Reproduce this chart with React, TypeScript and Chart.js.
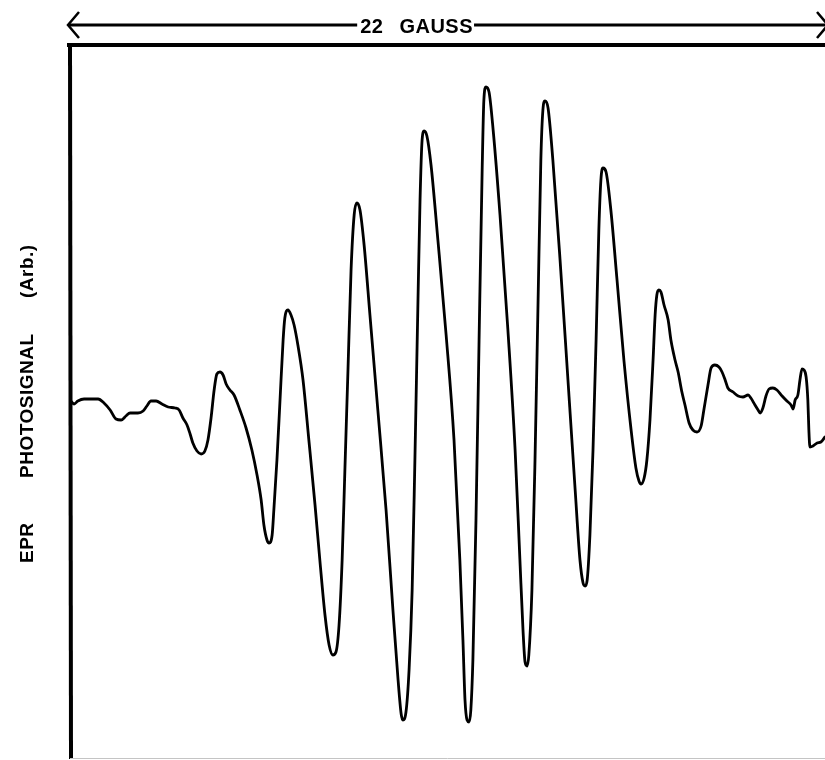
import React, { useEffect, useRef } from "react";
import { Chart, registerables } from "chart.js";

Chart.register(...registerables);

// Magnetic field offset across the sweep (G) and the recorded photosignal (arb. units)
const fieldG = [
  0, 0.12, 0.23, 0.41, 0.64, 0.82, 0.99, 1.17, 1.34, 1.49, 1.63, 1.75, 1.98, 2.13, 2.24, 2.36,
  2.51, 2.68, 2.86, 3.06, 3.18, 3.29, 3.41, 3.5, 3.58, 3.7, 3.82, 3.93, 4.02, 4.11, 4.2, 4.28,
  4.37, 4.46, 4.55, 4.66, 4.78, 4.95, 5.13, 5.3, 5.45, 5.57, 5.65, 5.74, 5.8, 5.89, 5.94, 6.03,
  6.12, 6.21, 6.26, 6.35, 6.44, 6.53, 6.64, 6.79, 6.96, 7.14, 7.28, 7.43, 7.55, 7.66, 7.75, 7.84,
  7.93, 8.01, 8.1, 8.19, 8.28, 8.36, 8.45, 8.57, 8.74, 8.97, 9.21, 9.41, 9.56, 9.65, 9.7, 9.79,
  9.88, 9.97, 10.05, 10.14, 10.2, 10.26, 10.32, 10.4, 10.52, 10.72, 10.96, 11.19, 11.36, 11.45,
  11.51, 11.57, 11.63, 11.68, 11.74, 11.83, 11.92, 12.01, 12.06, 12.12, 12.21, 12.33, 12.53,
  12.76, 12.97, 13.11, 13.2, 13.26, 13.32, 13.37, 13.46, 13.55, 13.64, 13.72, 13.78, 13.84,
  13.93, 14.07, 14.28, 14.51, 14.72, 14.86, 14.95, 15.01, 15.07, 15.15, 15.24, 15.33, 15.41,
  15.47, 15.53, 15.62, 15.76, 15.94, 16.14, 16.35, 16.49, 16.58, 16.64, 16.73, 16.81, 16.9,
  16.99, 17.05, 17.1, 17.16, 17.22, 17.31, 17.43, 17.51, 17.63, 17.72, 17.83, 17.92, 18.04,
  18.15, 18.27, 18.39, 18.47, 18.59, 18.68, 18.79, 18.91, 19.0, 19.09, 19.17, 19.32, 19.47,
  19.61, 19.76, 19.84, 19.96, 20.05, 20.11, 20.19, 20.28, 20.37, 20.48, 20.6, 20.75, 20.89,
  21.01, 21.07, 21.13, 21.21, 21.27, 21.33, 21.39, 21.45, 21.5, 21.53, 21.56, 21.65, 21.77,
  21.88, 22.0,
];

const photosignal = [
  0.2, -0.2, 0.1, 0.3, 0.3, 0.3, -0.1, -0.8, -1.7, -1.8, -1.4, -1.1, -1.1, -0.9, -0.4, 0.1,
  0.1, -0.2, -0.5, -0.6, -0.8, -1.6, -2.3, -3.2, -4.1, -4.9, -5.2, -4.9, -3.8, -1.6, 1.2, 2.8,
  3.0, 2.7, 1.8, 1.2, 0.7, -0.8, -2.6, -4.8, -7.3, -9.8, -12.3, -13.8, -14.1, -13.3, -10.8, -5.8,
  0.2, 6.2, 8.4, 9.2, 8.7, 7.7, 5.7, 2.2, -3.8, -10.3, -15.8, -21.3, -24.3, -25.3, -25.0, -22.3,
  -15.8, -6.8, 3.2, 13.2, 18.7, 19.9, 19.2, 15.7, 8.7, -0.8, -10.8, -20.8, -27.8, -31.2, -31.8, -31.0,
  -26.8, -18.8, -5.8, 10.2, 20.2, 26.2, 27.1, 26.6, 23.7, 16.2, 6.7, -3.8, -15.8, -23.8,
  -29.8, -31.8, -32.0, -30.8, -25.8, -11.8, 6.2, 23.2, 30.2, 31.5, 31.0, 27.2, 18.7,
  7.2, -4.8, -15.8, -22.8, -26.0, -26.4, -25.3, -18.8, -5.8, 10.2, 24.2, 29.2, 30.1,
  29.4, 24.2, 14.2, 2.2, -8.8, -15.8, -18.1, -18.4, -17.8, -13.3, -4.8, 6.2, 17.2,
  22.2, 23.4, 23.0, 19.2, 12.2, 4.2, -2.8, -6.6, -7.9, -8.2, -7.6, -5.8, -1.8,
  4.2, 8.7, 10.7, 11.2, 11.0, 9.7, 8.2, 6.2, 4.2, 3.0, 1.0, -0.3, -2.1,
  -2.8, -3.0, -2.4, -0.8, 1.7, 3.4, 3.7, 3.5, 3.0, 2.2, 1.4, 1.0, 0.6,
  0.5, 0.7, 0.4, -0.3, -0.8, -1.1, -0.6, 0.6, 1.3, 1.4, 1.2, 0.6, 0.1,
  -0.3, -0.7, 0.2, 0.7, 2.2, 3.3, 3.2, 2.5, 0.2, -2.8, -4.5, -4.4, -4.1,
  -4.0, -3.5,
];

// Sweep width shown above the trace, and where its label sits along the field axis
const sweepValue = "22";
const sweepUnit = "GAUSS";
const sweepLabelCenterG = 10.1;

// Vertical axis caption, read bottom to top
const yCaptionParts = ["EPR", "PHOTOSIGNAL", "(Arb.)"];

const FONT = '"Liberation Sans", Arial, sans-serif';

const framePlugin = {
  id: "eprFrame",
  afterDraw(chart: any) {
    const { ctx, chartArea, scales } = chart;
    const { left, right, top, bottom } = chartArea;
    ctx.save();
    ctx.strokeStyle = "#000";
    ctx.fillStyle = "#000";
    ctx.lineCap = "butt";

    // left axis
    ctx.lineWidth = 4;
    ctx.beginPath();
    ctx.moveTo(left, top - 2);
    ctx.lineTo(left + 1, bottom);
    ctx.stroke();

    // top border
    ctx.beginPath();
    ctx.moveTo(left - 3, top);
    ctx.lineTo(right, top);
    ctx.stroke();

    // faint bottom border
    ctx.strokeStyle = "#c4c4c4";
    ctx.lineWidth = 1;
    ctx.beginPath();
    ctx.moveTo(left, bottom - 0.5);
    ctx.lineTo(right, bottom - 0.5);
    ctx.stroke();

    // sweep-width arrow with its label
    const arrowY = top - 20;
    const cx = scales.x.getPixelForValue(sweepLabelCenterG);
    ctx.font = `bold 20px ${FONT}`;
    (ctx as any).letterSpacing = "0.5px";
    const valueW = ctx.measureText(sweepValue).width;
    const unitW = ctx.measureText(sweepUnit).width;
    const gap = 16;
    const total = valueW + gap + unitW;
    const textLeft = cx - total / 2;
    const textRight = cx + total / 2;
    ctx.textBaseline = "alphabetic";
    ctx.textAlign = "left";
    ctx.fillText(sweepValue, textLeft, arrowY + 8);
    ctx.fillText(sweepUnit, textLeft + valueW + gap, arrowY + 8);

    ctx.strokeStyle = "#000";
    ctx.lineWidth = 3;
    ctx.beginPath();
    ctx.moveTo(left - 2, arrowY);
    ctx.lineTo(textLeft - 3, arrowY);
    ctx.moveTo(textRight + 1, arrowY);
    ctx.lineTo(right + 2, arrowY);
    ctx.stroke();

    ctx.lineWidth = 2.5;
    ctx.lineJoin = "miter";
    ctx.beginPath();
    ctx.moveTo(left + 9, arrowY - 13);
    ctx.lineTo(left - 2, arrowY);
    ctx.lineTo(left + 9, arrowY + 13);
    ctx.stroke();
    ctx.beginPath();
    ctx.moveTo(right - 8, arrowY - 13);
    ctx.lineTo(right + 3, arrowY);
    ctx.lineTo(right - 8, arrowY + 13);
    ctx.stroke();

    // rotated vertical caption
    ctx.font = `bold 19px ${FONT}`;
    (ctx as any).letterSpacing = "0.5px";
    const baseX = left - 37;
    const starts = [bottom - 196, bottom - 281, bottom - 461];
    yCaptionParts.forEach((part, i) => {
      ctx.save();
      ctx.translate(baseX, starts[i]);
      ctx.rotate(-Math.PI / 2);
      ctx.fillText(part, 0, 0);
      ctx.restore();
    });

    ctx.restore();
  },
};

export default function App() {
  const canvasRef = useRef<HTMLCanvasElement | null>(null);

  useEffect(() => {
    const canvas = canvasRef.current;
    if (!canvas) return;
    const points = fieldG.map((g, i) => ({ x: g, y: photosignal[i] }));
    const chart = new Chart(canvas, {
      type: "line",
      data: {
        datasets: [
          {
            data: points,
            borderColor: "#000",
            borderWidth: 2.8,
            pointRadius: 0,
            cubicInterpolationMode: "monotone",
            borderJoinStyle: "round",
            borderCapStyle: "round",
            fill: false,
          },
        ],
      },
      options: {
        responsive: false,
        devicePixelRatio: 1,
        animation: false,
        layout: { padding: { left: 70, top: 45, right: 0, bottom: 1 } },
        plugins: {
          legend: { display: false },
          tooltip: { enabled: false },
        },
        scales: {
          x: { type: "linear", min: 0, max: 22, display: false },
          y: { type: "linear", min: -35.7, max: 35.7, display: false },
        },
      },
      plugins: [framePlugin],
    });
    return () => chart.destroy();
  }, []);

  return (
    <div style={{ position: "absolute", left: 0, top: 0, width: 825, height: 760, background: "#fff" }}>
      <canvas ref={canvasRef} width={825} height={760} style={{ display: "block" }} />
    </div>
  );
}
